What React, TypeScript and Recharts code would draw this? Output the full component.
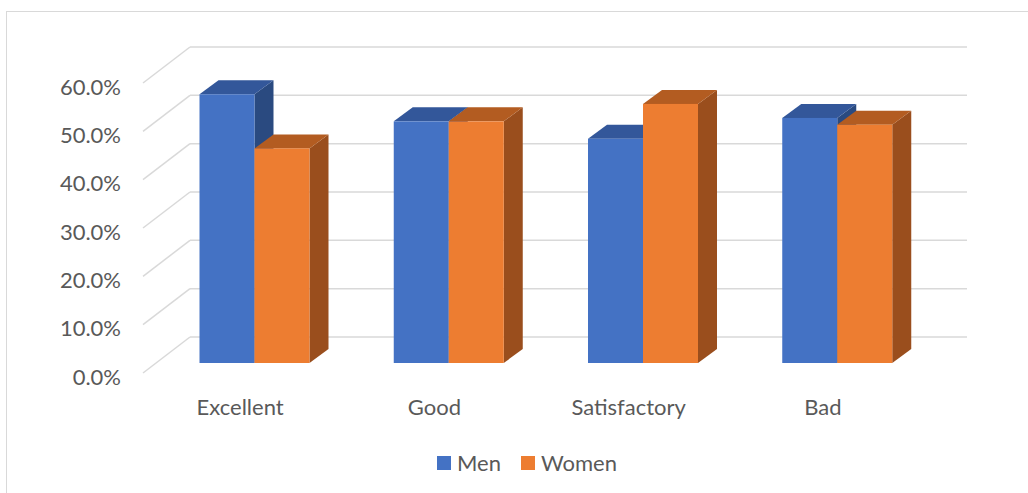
import React from 'react';
import { BarChart, Bar, XAxis, YAxis, CartesianGrid, Legend } from 'recharts';

const categories = ['Excellent', 'Good', 'Satisfactory', 'Bad'];
const menValues = [55.6, 50.0, 46.4, 50.7];
const womenValues = [44.4, 50.0, 53.6, 49.3];
const yTicks = [0, 10, 20, 30, 40, 50, 60];
const seriesNames = ['Men', 'Women'];

const data = categories.map((c, i) => ({ category: c, Men: menValues[i], Women: womenValues[i] }));

const FONT = 'Lato, "Open Sans", sans-serif';
const TEXT = '#595959';
const GRID = '#D9D9D9';
const BACK_DX = 47;
const BACK_DY = -36;
const BAR_DX = 14.5;
const BAR_DY = -10;
const DEPTH_X = 19;
const DEPTH_Y = -14;

const palette: Record<string, { front: string; top: string; side: string }> = {
  Men: { front: '#4472C4', top: '#33579A', side: '#2A4A80' },
  Women: { front: '#ED7D31', top: '#B35C21', side: '#9A4E1D' },
};

const makeBar3D = (name: string) => (props: any) => {
  const { x, y, width, height } = props;
  if (width == null || height == null) return <g />;
  const c = palette[name];
  const X = x + BAR_DX;
  const Y = y + BAR_DY;
  const w = width;
  const h = height;
  const top = `${X},${Y} ${X + w},${Y} ${X + w + DEPTH_X},${Y + DEPTH_Y} ${X + DEPTH_X},${Y + DEPTH_Y}`;
  const side = `${X + w},${Y} ${X + w + DEPTH_X},${Y + DEPTH_Y} ${X + w + DEPTH_X},${Y + h + DEPTH_Y} ${X + w},${Y + h}`;
  return (
    <g>
      <polygon points={side} fill={c.side} />
      <polygon points={top} fill={c.top} />
      <rect x={X} y={Y} width={w} height={h} fill={c.front} />
    </g>
  );
};

const gridLine = (props: any) => {
  const { x1, y1, x2, key } = props;
  return (
    <g key={key}>
      <line x1={x1} y1={y1} x2={x1 + BACK_DX} y2={y1 + BACK_DY} stroke={GRID} strokeWidth={1.5} />
      <line x1={x1 + BACK_DX} y1={y1 + BACK_DY} x2={x2 + BACK_DX} y2={y1 + BACK_DY} stroke={GRID} strokeWidth={1.5} />
    </g>
  );
};

const YTick = (props: any) => {
  const { x, y, payload } = props;
  return (
    <text x={x - 22} y={y + 3} textAnchor="end" dominantBaseline="central" fontFamily={FONT} fontSize={22} fill={TEXT}>
      {`${Number(payload.value).toFixed(1)}%`}
    </text>
  );
};

const XTick = (props: any) => {
  const { x, y, payload } = props;
  return (
    <text x={x} y={y + 33} textAnchor="middle" dominantBaseline="central" fontFamily={FONT} fontSize={22} fill={TEXT}>
      {payload.value}
    </text>
  );
};

const LegendContent = () => (
  <div style={{ display: 'flex', justifyContent: 'center', alignItems: 'center', fontFamily: FONT, fontSize: 22, color: TEXT }}>
    {seriesNames.map((n, i) => (
      <div key={n} style={{ display: 'flex', alignItems: 'center', marginLeft: i === 0 ? 0 : 20 }}>
        <span style={{ display: 'inline-block', width: 14, height: 14, background: palette[n].front, marginRight: 6 }} />
        <span>{n}</span>
      </div>
    ))}
  </div>
);

export default function App() {
  return (
    <div style={{ position: 'absolute', left: 0, top: 0, width: 1028, height: 493, overflow: 'hidden', background: '#fff' }}>
      <div style={{ position: 'absolute', left: 6, top: 11, width: 1100, height: 600, border: '1.5px solid #D9D9D9' }} />
      <div style={{ position: 'absolute', left: 0, top: 0 }}>
        <BarChart
          width={1028}
          height={493}
          data={data}
          margin={{ top: 83, right: 108, bottom: 90, left: 83 }}
          barSize={55}
          barGap={0}
        >
          <CartesianGrid vertical={false} horizontal={gridLine} />
          <XAxis dataKey="category" height={30} tickSize={0} tickMargin={0} axisLine={false} tickLine={false} tick={<XTick />} />
          <YAxis width={60} domain={[0, 60]} ticks={yTicks} tickSize={0} tickMargin={0} axisLine={false} tickLine={false} tick={<YTick />} interval={0} />
          <Legend layout="horizontal" verticalAlign="middle" align="center" wrapperStyle={{ top: 449, left: 13, width: 1028 }} content={<LegendContent />} />
          <Bar dataKey="Men" isAnimationActive={false} shape={makeBar3D('Men')} />
          <Bar dataKey="Women" isAnimationActive={false} shape={makeBar3D('Women')} />
        </BarChart>
      </div>
    </div>
  );
}
